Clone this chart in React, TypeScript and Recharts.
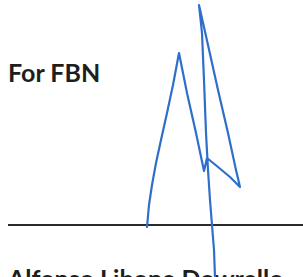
import { LineChart, Line, XAxis, YAxis, ReferenceLine } from "recharts"

// Pen stroke, in page pixels (y grows downward).
const strokeX = [147, 149, 152, 156, 161, 167, 173, 179, 187, 196, 204, 207, 218, 230, 240, 236, 228, 218, 208, 199, 202, 204, 206, 208, 210, 212, 214, 215]
const strokeY = [227, 205, 185, 163, 140, 113, 85, 53, 93, 133, 171, 158, 167, 177, 187, 170, 133, 90, 45, 5, 33, 80, 133, 170, 200, 225, 250, 277]

const headingText = "For FBN"
const signerText = "Alfonso Libone Dowrello"
const signLineY = 225

const W = 303
const H = 277

const strokeData = strokeX.map((x, i) => ({ x, y: strokeY[i] }))

const textStyle = {
	position: "absolute" as const,
	left: 8,
	fontFamily: "Lato",
	fontWeight: 700,
	fontSize: 25,
	lineHeight: "25px",
	color: "#1e1e1e",
	whiteSpace: "nowrap" as const,
}

export default function App() {
	return (
		<div style={{ position: "absolute", left: 0, top: 0, width: W, height: H, overflow: "hidden", background: "#fff" }}>
			<div style={{ ...textStyle, top: 60 }}>{headingText}</div>
			<div style={{ ...textStyle, top: 266 }}>{signerText}</div>
			<div style={{ position: "absolute", left: 0, top: 0 }}>
				<LineChart width={W} height={H} data={strokeData} margin={{ top: 0, right: 0, bottom: 0, left: 0 }}>
					<XAxis dataKey="x" type="number" domain={[0, W]} hide allowDataOverflow />
					<YAxis dataKey="y" type="number" domain={[0, H]} reversed hide allowDataOverflow />
					<ReferenceLine
						segment={[{ x: 8, y: signLineY }, { x: W, y: signLineY }]}
						stroke="#2b2b2b"
						strokeWidth={2}
						ifOverflow="visible"
					/>
					<Line
						dataKey="y"
						type="linear"
						stroke="#2f6fcc"
						strokeWidth={2.2}
						strokeLinejoin="round"
						strokeLinecap="round"
						dot={false}
						activeDot={false}
						isAnimationActive={false}
					/>
				</LineChart>
			</div>
		</div>
	)
}
